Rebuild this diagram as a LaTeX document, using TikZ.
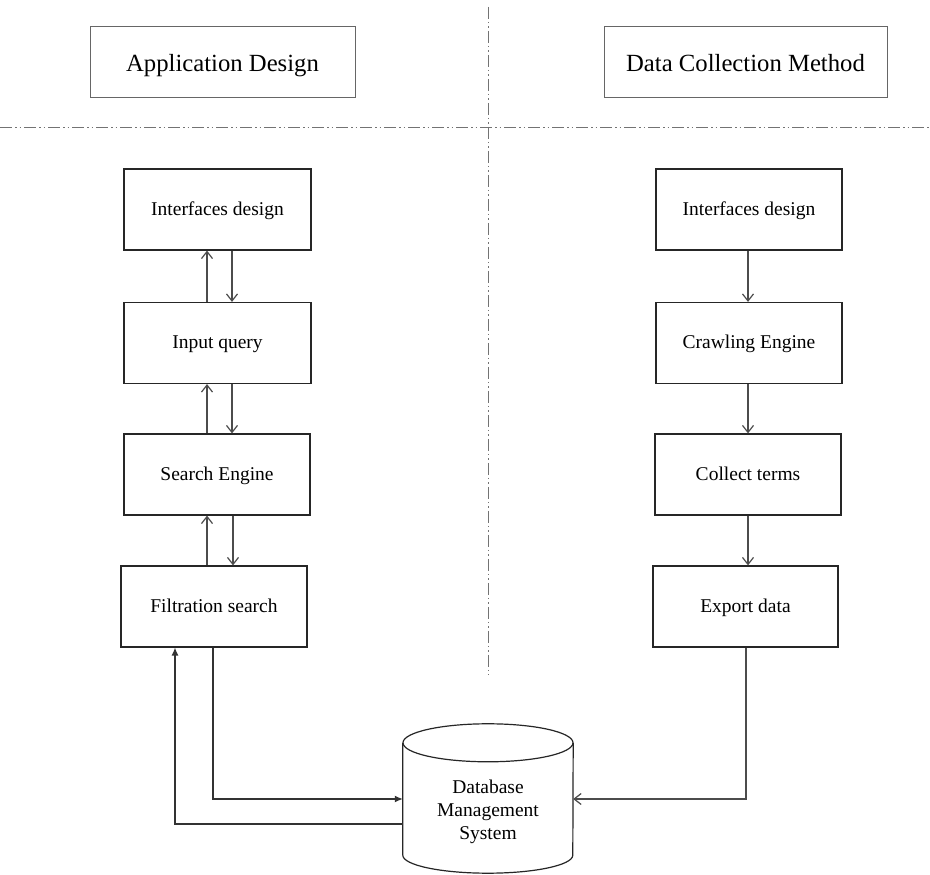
\documentclass[tikz,border=0pt]{standalone}
\usepackage{fontspec}
\setmainfont{Liberation Serif}
\usetikzlibrary{arrows.meta}
\begin{document}
\begin{tikzpicture}[x=1pt,y=1pt,
  box/.style={draw=black!85, line width=1.2pt, minimum height=81pt, inner sep=0pt,
              text height=12pt, text depth=0pt,
              font=\fontsize{19.5}{23}\selectfont},
  head/.style={draw=black!60, line width=1pt, minimum height=71pt, inner sep=0pt,
              text height=19pt, text depth=0pt,
              font=\fontsize{24.7}{28}\selectfont},
  openar/.style={draw=black!70, line width=1.2pt, -{Straight Barb[length=7pt,width=11pt]}},
  fillar/.style={draw=black!80, line width=1.2pt, -{Latex[length=8pt,width=7pt]}},
  sep/.style={draw=black!55, line width=1pt, dash pattern=on 12pt off 3pt on 1.5pt off 3pt on 1.5pt off 3pt}
]
\useasboundingbox[fill=white] (0,0) rectangle (930,875);

% header boxes
\node[head, minimum width=265pt] (h1) at (222.5,812.5) {Application Design};
\node[head, minimum width=283pt] (h2) at (745.5,812.5) {Data Collection Method};

% separators
\coordinate (vt) at (488,868);
\coordinate (vb) at (488,200);
\coordinate (hl) at (0,747);
\coordinate (hr) at (930,747);
\draw[sep] (vt) -- (vb);
\draw[sep] (hl) -- (hr);

% left column
\node[box, minimum width=187pt] (lif) at (217.5,665.5) {Interfaces design};
\node[box, minimum width=187pt] (inq) at (217.5,532) {Input query};
\node[box, minimum width=186pt] (srch) at (217,400.5) {Search Engine};
\node[box, minimum width=186pt] (fil) at (214,268.5) {Filtration search};

% right column
\node[box, minimum width=186pt] (rif) at (749,665.5) {Interfaces design};
\node[box, minimum width=186pt] (crw) at (749,532) {Crawling Engine};
\node[box, minimum width=186pt] (col) at (748,400.5) {Collect terms};
\node[box, minimum width=185pt] (exp) at (745.5,268.5) {Export data};

% database cylinder
\node[minimum width=170pt, minimum height=112pt, inner sep=0pt] (db) at (488,76) {};
\draw[draw=black!85, line width=1.2pt] (db.north west) -- (db.south west)
  arc[start angle=180, end angle=360, x radius=85pt, y radius=18pt] -- (db.north east);
\draw[draw=black!85, line width=1.2pt] (db.north) ellipse[x radius=85pt, y radius=19pt];
\node[align=center, font=\fontsize{19.5}{23}\selectfont, inner sep=0pt] (dbt) at (488,63)
  {Database\\Management\\System};

% left arrows
\draw[openar] (inq.north -| 207,0) -- (lif.south -| 207,0);
\draw[openar] (lif.south -| 232,0) -- (inq.north -| 232,0);
\draw[openar] (srch.north -| 207,0) -- (inq.south -| 207,0);
\draw[openar] (inq.south -| 232,0) -- (srch.north -| 232,0);
\draw[openar] (fil.north -| 207,0) -- (srch.south -| 207,0);
\draw[openar] (srch.south -| 233,0) -- (fil.north -| 233,0);

% right arrows
\draw[openar] (rif.south -| 748,0) -- (crw.north -| 748,0);
\draw[openar] (crw.south -| 748,0) -- (col.north -| 748,0);
\draw[openar] (col.south -| 748,0) -- (exp.north -| 748,0);

% database connections
\draw[fillar] (fil.south -| 213,0) |- (db.west);
\draw[fillar] ([yshift=-25pt]db.west) -| (fil.south -| 175,0);
\draw[openar] (exp.south -| 746,0) |- (db.east);
\end{tikzpicture}
\end{document}
